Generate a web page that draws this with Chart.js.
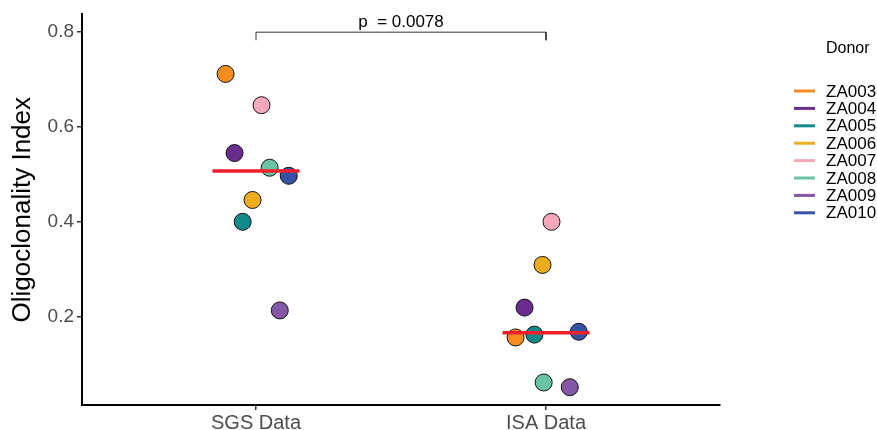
<!DOCTYPE html>
<html>
<head>
<meta charset="utf-8">
<script src="https://cdn.jsdelivr.net/npm/chart.js@4.4.0/dist/chart.umd.min.js"></script>
<style>
    html, body { margin: 0; padding: 0; background: #fff; }
    #wrap { width: 877px; height: 430px; }
</style>
</head>
<body>
<div id="wrap"><canvas id="oligoChart"></canvas></div>
<script>
// --- data ---
const groups = ['SGS Data', 'ISA Data'];
const donors = ['ZA003', 'ZA004', 'ZA005', 'ZA006', 'ZA007', 'ZA008', 'ZA009', 'ZA010'];
const donorColors = ['#F68B1F', '#6A2C8E', '#14898A', '#EEAC1F', '#F5A9B8', '#69C4A5', '#8456A8', '#3553A4'];

// jitter offset from the group centre, and value
const sgsOffset = [-0.105, -0.074, -0.046, -0.012, 0.019, 0.047, 0.082, 0.113];
const sgsValues = [0.712, 0.545, 0.400, 0.446, 0.646, 0.514, 0.213, 0.497];
const isaOffset = [-0.105, -0.074, -0.040, -0.012, 0.019, -0.008, 0.082, 0.113];
const isaValues = [0.156, 0.219, 0.162, 0.309, 0.400, 0.061, 0.051, 0.168];

const medians = [0.507, 0.166];
const pLabel = 'p  = 0.0078';
const yTicks = [0.2, 0.4, 0.6, 0.8];

// --- datasets ---
const medianSets = medians.map((m, i) => ({
    type: 'line',
    data: [{ x: i + 1 - 0.15, y: m }, { x: i + 1 + 0.15, y: m }],
    borderColor: '#F0202A',
    borderWidth: 3.5,
    pointRadius: 0,
    fill: false
}));

const bracketSet = {
    type: 'line',
    data: [{ x: 1, y: 0.783 }, { x: 1, y: 0.8 }, { x: 2, y: 0.8 }, { x: 2, y: 0.783 }],
    borderColor: '#333',
    borderWidth: 1,
    pointRadius: 0,
    fill: false
};

// later donors sit on top, so they go first
const donorSets = donors.map((d, i) => ({
    label: d,
    data: [
        { x: 1 + sgsOffset[i], y: sgsValues[i] },
        { x: 2 + isaOffset[i], y: isaValues[i] }
    ],
    backgroundColor: donorColors[i],
    borderColor: '#111',
    borderWidth: 1,
    pointRadius: 8.5
})).reverse();

// --- plugins: p label and donor legend ---
const annotatePlugin = {
    id: 'annotate',
    afterDraw(chart) {
        const ctx = chart.ctx;
        const xs = chart.scales.x, ys = chart.scales.y;
        ctx.save();
        ctx.fillStyle = '#000';
        ctx.font = '17px "Liberation Sans", Arial, sans-serif';
        ctx.textAlign = 'center';
        ctx.textBaseline = 'bottom';
        ctx.fillText(pLabel, xs.getPixelForValue(1.5), ys.getPixelForValue(0.8) - 1);

        ctx.textAlign = 'left';
        ctx.textBaseline = 'middle';
        ctx.font = '16px "Liberation Sans", Arial, sans-serif';
        ctx.fillText('Donor', 826, 49);
        ctx.font = '17px "Liberation Sans", Arial, sans-serif';
        donors.forEach((d, i) => {
            const y = 91 + i * 17.4;
            ctx.strokeStyle = donorColors[i];
            ctx.lineWidth = 3;
            ctx.beginPath();
            ctx.moveTo(794, y);
            ctx.lineTo(815, y);
            ctx.stroke();
            ctx.fillStyle = '#000';
            ctx.fillText(d, 826, y + 1);
        });
        ctx.restore();
    }
};

new Chart(document.getElementById('oligoChart').getContext('2d'), {
    type: 'scatter',
    data: { datasets: [...medianSets, bracketSet, ...donorSets] },
    options: {
        responsive: true,
        maintainAspectRatio: false,
        animation: false,
        layout: { padding: { top: 14, right: 157, left: 0, bottom: 0 } },
        plugins: { legend: { display: false }, tooltip: { enabled: false } },
        scales: {
            x: {
                type: 'linear',
                min: 0.4,
                max: 2.6,
                afterBuildTicks: scale => { scale.ticks = [{ value: 1 }, { value: 2 }]; },
                afterFit: scale => { scale.height = 25; },
                ticks: {
                    callback: v => groups[v - 1],
                    color: '#4d4d4d',
                    font: { size: 20, family: '"Liberation Sans", Arial, sans-serif' },
                    padding: 1,
                    maxRotation: 0
                },
                grid: { drawOnChartArea: false, drawTicks: true, tickLength: 5, color: '#333', lineWidth: 1.5 },
                border: { color: '#000', width: 2 }
            },
            y: {
                min: 0.0135,
                max: 0.8375,
                afterBuildTicks: scale => { scale.ticks = yTicks.map(v => ({ value: v })); },
                afterFit: scale => { scale.width = 82; },
                ticks: {
                    callback: v => v.toFixed(1),
                    color: '#4d4d4d',
                    font: { size: 19, family: '"Liberation Sans", Arial, sans-serif' },
                    padding: 3
                },
                title: {
                    display: true,
                    text: 'Oligoclonality Index',
                    color: '#000',
                    font: { size: 26, family: '"Liberation Sans", Arial, sans-serif' },
                    padding: { top: 7, bottom: 0 }
                },
                grid: { drawOnChartArea: false, drawTicks: true, tickLength: 5, color: '#333', lineWidth: 1.5 },
                border: { color: '#000', width: 2 }
            }
        }
    },
    plugins: [annotatePlugin]
});
</script>
</body>
</html>
